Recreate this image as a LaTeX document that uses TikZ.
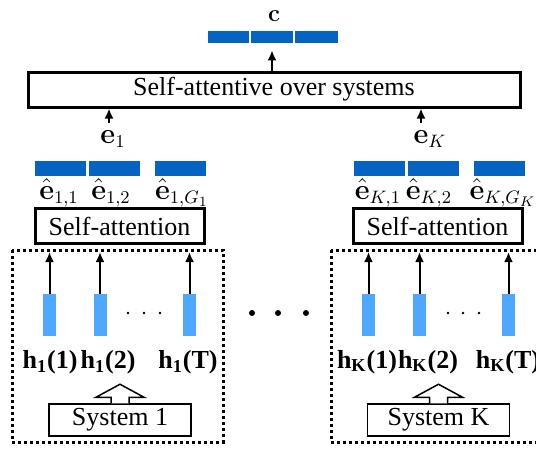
\documentclass[tikz,border=0pt]{standalone}
\usepackage[no-math]{fontspec}
\setmainfont{Liberation Serif}
\usetikzlibrary{arrows.meta}
\definecolor{darkblue}{RGB}{5,99,193}
\definecolor{lightblue}{RGB}{79,168,255}
\begin{document}
\begin{tikzpicture}[x=0.5pt,y=-0.5pt]
\tikzstyle{myarrow}=[line width=1pt,draw=black,-{Latex[length=5pt,width=4.5pt]}];
\tikzstyle{thickbox}=[draw=black,line width=1.5pt,inner sep=0pt,minimum height=17.5pt,font=\fontsize{13}{15}\selectfont];
\tikzstyle{sysbox}=[draw=black,line width=0.75pt,inner sep=0pt,minimum width=71pt,minimum height=16pt,font=\fontsize{13}{15}\selectfont];
\tikzstyle{dotbox}=[draw=black,line width=1.5pt,dash pattern=on 1.5pt off 1.5pt];
\tikzstyle{seg}=[fill=darkblue,inner sep=0pt,minimum height=7.5pt,minimum width=25.5pt];
\tikzstyle{hbar}=[fill=lightblue,inner sep=0pt,minimum width=6.5pt,minimum height=21pt];
\tikzstyle{hlabel}=[font=\fontsize{13}{15}\selectfont\bfseries,inner sep=0pt];
\tikzstyle{elabel}=[font=\fontsize{13.5}{15}\selectfont,inner sep=0pt];
\tikzstyle{hollow}=[line width=0.75pt,draw=black,fill=white];

\clip (0,0) rectangle (536,455);

% top vector c
\node[seg,minimum width=20.5pt,minimum height=6pt] (c1) at (228.5,37) {};
\node[seg,minimum width=21pt,minimum height=6pt] (c2) at (272,37) {};
\node[seg,minimum width=21.5pt,minimum height=6pt] (c3) at (316.5,37) {};
\node[font=\fontsize{12}{14}\selectfont,inner sep=0pt] (c) at (274,16) {$\mathbf{c}$};

\node[thickbox,minimum width=246pt] (sys) at (274,89.5) {Self-attentive over systems};
\draw[myarrow,shorten >=3.5pt] (sys.north -| c2) -- (c2.south);

\node[elabel] (e1) at (113,139) {$\mathbf{e}_1$};
\node[elabel] (eK) at (430,139) {$\mathbf{e}_K$};
\coordinate (a1) at (109,123);
\coordinate (aK) at (421,123);
\draw[myarrow] (a1) -- (a1 |- sys.south);
\draw[myarrow] (aK) -- (aK |- sys.south);

%%% system 1
\node[seg] (l1) at (60.5,168.5) {};
\node[seg] (l2) at (114,168.5) {};
\node[seg] (l3) at (180.5,168.5) {};
\node[elabel] (le1) at (59,193) {$\hat{\mathbf{e}}_{1,1}$};
\node[elabel] (le2) at (111,193) {$\hat{\mathbf{e}}_{1,2}$};
\node[elabel] (le3) at (182,193) {$\hat{\mathbf{e}}_{1,G_1}$};

\node[thickbox,minimum width=84.5pt] (satt1) at (119.5,226) {Self-attention};
\draw[dotbox] (12,250) rectangle (223,442);
\coordinate (top) at (0,252);

\node[hbar] (h11) at (49.5,315) {};
\node[hbar] (h12) at (100,315) {};
\node[hbar] (h1T) at (189.5,315) {};
\draw[myarrow] (h11.north) -- (h11.north |- top);
\draw[myarrow] (h12.north) -- (h12.north |- top);
\draw[myarrow] (h1T.north) -- (h1T.north |- top);
\fill (128,313) circle (0.7pt) (144,313) circle (0.7pt) (160,313) circle (0.7pt);

\node[hlabel] (lh11) at (50,362) {h\textsubscript{1}(1)};
\node[hlabel] (lh12) at (108,362) {h\textsubscript{1}(2)};
\node[hlabel] (lh1T) at (188,362) {h\textsubscript{1}(T)};

\node[sysbox] (s1) at (120,420) {System 1};
\draw[hollow] ([xshift=-4.5pt]s1.north) -- ++(0,-6) -- ++(-15,0) -- ++(24,-13) -- ++(24,13) -- ++(-15,0) -- ++(0,6);

% dots between systems
\fill (252,313) circle (1.5pt) (278,313) circle (1.5pt) (306,313) circle (1.5pt);

%%% system K
\node[seg] (r1) at (379,168.5) {};
\node[seg] (r2) at (433,168.5) {};
\node[seg] (r3) at (499,168.5) {};
\node[elabel] (re1) at (378,193) {$\hat{\mathbf{e}}_{K,1}$};
\node[elabel] (re2) at (429,193) {$\hat{\mathbf{e}}_{K,2}$};
\node[elabel] (re3) at (503,193) {$\hat{\mathbf{e}}_{K,G_K}$};

\node[thickbox,minimum width=84.5pt] (sattK) at (437.5,226) {Self-attention};
\draw[dotbox] (331,250) rectangle (545,442);

\node[hbar] (hK1) at (368.5,315) {};
\node[hbar] (hK2) at (419.5,315) {};
\node[hbar] (hKT) at (508.5,315) {};
\draw[myarrow] (hK1.north) -- (hK1.north |- top);
\draw[myarrow] (hK2.north) -- (hK2.north |- top);
\draw[myarrow] (hKT.north) -- (hKT.north |- top);
\fill (448,313) circle (0.7pt) (463,313) circle (0.7pt) (479,313) circle (0.7pt);

\node[hlabel] (lhK1) at (367,362) {h\textsubscript{K}(1)};
\node[hlabel] (lhK2) at (428,362) {h\textsubscript{K}(2)};
\node[hlabel] (lhKT) at (508,362) {h\textsubscript{K}(T)};

\node[sysbox] (sK) at (438.5,420) {System K};
\draw[hollow] ([xshift=-4.5pt]sK.north) -- ++(0,-6) -- ++(-15,0) -- ++(24,-13) -- ++(24,13) -- ++(-15,0) -- ++(0,6);

\end{tikzpicture}
\end{document}
